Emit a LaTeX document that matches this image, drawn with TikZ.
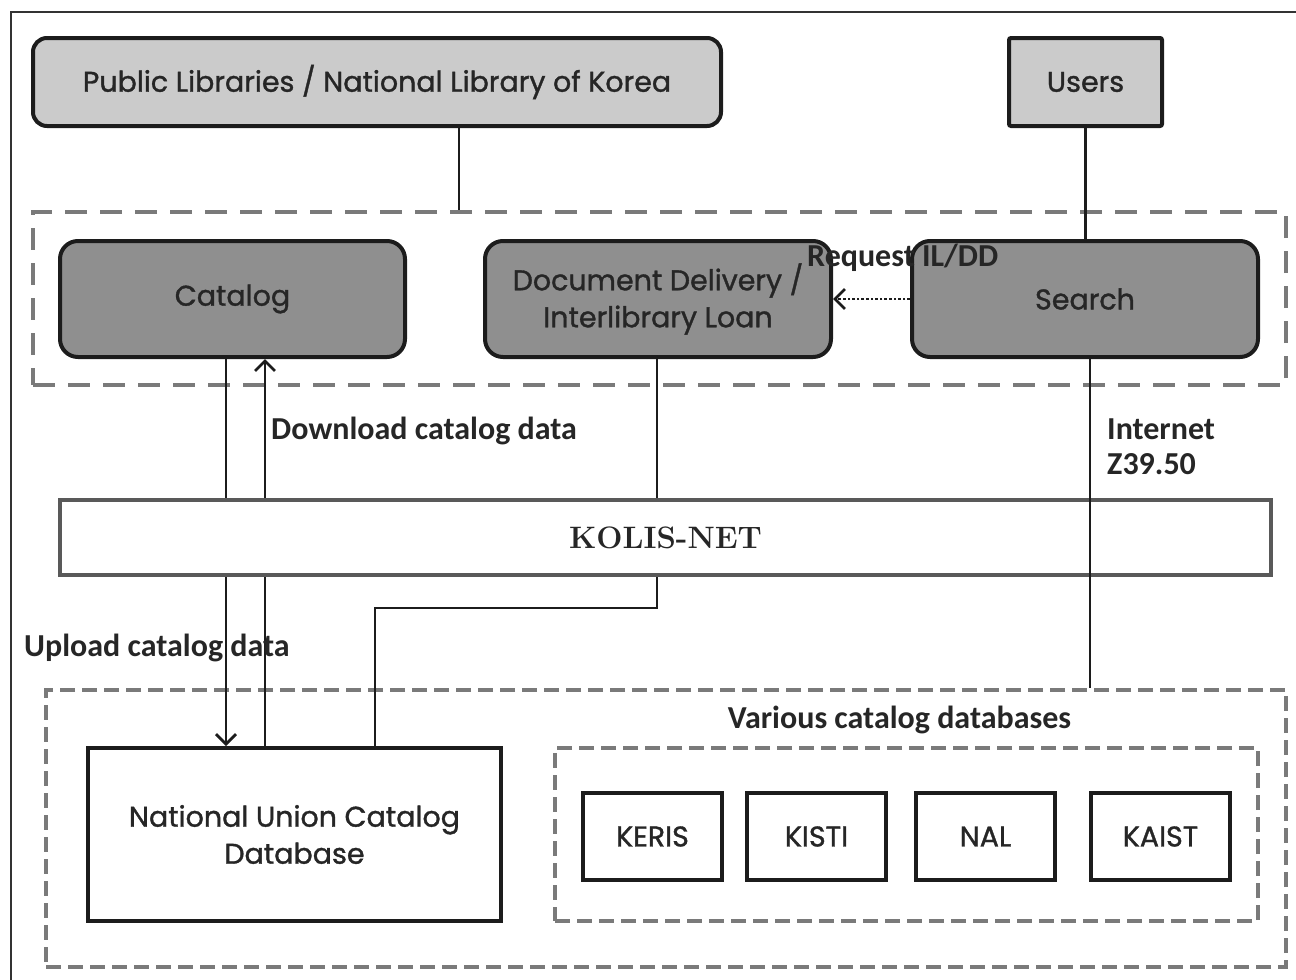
\documentclass[tikz,border=0pt]{standalone}
\usepackage{fontspec}
\newfontfamily\boxfont[FakeBold=1.2]{Poppins}
\newfontfamily\lblfont{Carlito}
\usetikzlibrary{arrows.meta}
\definecolor{lightfill}{HTML}{CBCBCB}
\definecolor{darkfill}{HTML}{8F8F8F}
\definecolor{edge}{HTML}{1C1C1C}
\definecolor{dashgray}{HTML}{7A7A7A}
\definecolor{txt}{HTML}{262626}
\begin{document}
\begin{tikzpicture}[x=1pt,y=-1pt,
  boxtext/.style={font=\boxfont\fontsize{28.5}{37}\selectfont, text=txt, align=center},
  lightbox/.style={draw=edge, line width=4pt, fill=lightfill, rounded corners=14pt, inner sep=0pt, boxtext},
  usersbox/.style={draw=edge, line width=4pt, fill=lightfill, rounded corners=2pt, inner sep=0pt, boxtext},
  darkbox/.style={draw=edge, line width=4pt, fill=darkfill, rounded corners=18pt, inner sep=0pt, boxtext},
  whitebox/.style={draw=edge, line width=4pt, fill=white, inner sep=0pt, boxtext},
  kolisbox/.style={draw=black!65, line width=4pt, fill=white, inner sep=0pt, font=\fontsize{31}{38}\selectfont\bfseries, text=txt},
  grpbig/.style={draw=dashgray, line width=4pt, dash pattern=on 22pt off 13pt, inner sep=0pt},
  grpsmall/.style={draw=dashgray, line width=4pt, dash pattern=on 15pt off 7pt, inner sep=0pt},
  conn/.style={draw=edge, line width=2.8pt},
  tip/.style={-{Straight Barb[length=10pt,width=20pt,line width=2.8pt]}},
  lbl/.style={font=\lblfont\bfseries\fontsize{32}{35}\selectfont, text=txt, inner sep=0pt, align=left}
]
\useasboundingbox (0,0) rectangle (1296,980);
\draw[line width=1.5pt, black!80] (11,980) -- (11,12) -- (1296,12);

% groups
\node[grpbig, minimum width=1253pt, minimum height=173pt] (topgrp) at (659.5,298.5) {};
\node[grpsmall, minimum width=1240pt, minimum height=277pt] (botgrp) at (666,828.5) {};
\node[grpsmall, minimum width=703pt, minimum height=173pt] (inner) at (906.5,834.5) {};

% boxes
\node[lightbox, minimum width=688pt, minimum height=88pt] (pub) at (377,82) {Public Libraries / National Library of Korea};
\node[usersbox, minimum width=153pt, minimum height=88pt] (users) at (1085.5,82) {Users};
\node[darkbox, minimum width=345pt, minimum height=116pt] (cat) at (232.5,299) {Catalog};
\node[darkbox, minimum width=346pt, minimum height=116pt] (dd) at (658,299) {Document Delivery /\\Interlibrary Loan};
\node[darkbox, minimum width=346pt, minimum height=116pt] (search) at (1085,299) {Search};
\node[kolisbox, minimum width=1211pt, minimum height=75pt] (kolis) at (665.5,537.5) {KOLIS-NET};
\node[whitebox, minimum width=413pt, minimum height=173pt] (nuc) at (294.5,834.5) {National Union Catalog\\Database};
\node[whitebox, minimum width=139pt, minimum height=87pt] (keris) at (652.5,836.5) {KERIS};
\node[whitebox, minimum width=139pt, minimum height=87pt] (kisti) at (816.5,836.5) {KISTI};
\node[whitebox, minimum width=139pt, minimum height=87pt] (nal) at (985.5,836.5) {NAL};
\node[whitebox, minimum width=139pt, minimum height=87pt] (kaist) at (1160.5,836.5) {KAIST};

% coordinates
\coordinate (xa) at (459,0);
\coordinate (xc1) at (226,0);
\coordinate (xc2) at (265,0);
\coordinate (xd) at (657,0);
\coordinate (xs) at (1090,0);
\coordinate (ddbend) at (657,608);
\coordinate (nucbend) at (375,608);

% connectors
\draw[conn] (pub.south -| xa) -- (topgrp.north -| xa);
\draw[conn] (users.south) -- (users.south |- search.north);
\draw[edge, line width=2.8pt, dash pattern=on 2.6pt off 2pt, tip] (search.west) -- (dd.east);
\draw[conn] (xc1 |- cat.south) -- (xc1 |- kolis.north);
\draw[conn, tip] (xc2 |- kolis.north) -- (xc2 |- cat.south);
\draw[conn, tip] (xc1 |- kolis.south) -- (xc1 |- nuc.north);
\draw[conn] (xc2 |- nuc.north) -- (xc2 |- kolis.south);
\draw[conn] (xd |- dd.south) -- (xd |- kolis.north);
\draw[conn] (xd |- kolis.south) -- (ddbend) -- (nucbend) -- (nucbend |- nuc.north);
\draw[conn] (xs |- search.south) -- (xs |- botgrp.north);

% labels
\node[lbl, anchor=west] (req) at (807,258) {Request IL/DD};
\node[lbl, anchor=west] (dl) at (271,431) {Download catalog data};
\node[lbl, anchor=north west, text depth=0pt] (inet) at (1107,419) {Internet\\Z39.50};
\node[lbl, anchor=west] (ul) at (24,648) {Upload catalog data};
\node[lbl, anchor=center] (various) at (899.5,720) {Various catalog databases};
\end{tikzpicture}
\end{document}
